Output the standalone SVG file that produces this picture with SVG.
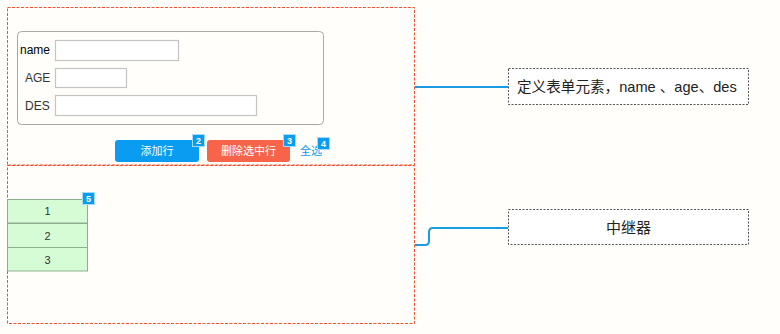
<svg xmlns="http://www.w3.org/2000/svg" width="780" height="334" viewBox="0 0 780 334">
<style>
.frame{fill:none;stroke:#f0522f;stroke-width:1;stroke-dasharray:3,1.5}
.inp{fill:#ffffff;stroke:#c4c4c4;stroke-width:1.2}
.lbl{font-family:"Liberation Sans",Arial,sans-serif;font-size:12px;fill:#333}
.btn{font-family:"Liberation Sans","Noto Sans CJK SC",sans-serif;font-size:11px;fill:#ffffff;text-anchor:middle}
.badge rect{fill:#0a9cf0;stroke:#a6dcfa;stroke-width:1}
.badge text{font-family:"Liberation Sans",Arial,sans-serif;font-size:9px;font-weight:bold;fill:#fff;text-anchor:middle}
.row rect{fill:#d5fcd5;stroke:#8fae8f;stroke-width:1}
.row text{font-family:"Liberation Sans",Arial,sans-serif;font-size:11px;fill:#333;text-anchor:middle}
.note{fill:#ffffff;stroke:#555;stroke-width:1;stroke-dasharray:2,1.5}
.notetxt{font-family:"Liberation Sans","Noto Sans CJK SC",sans-serif;font-size:14.6px;fill:#222}
.conn{fill:none;stroke:#1a9be6;stroke-width:2}
</style>
<rect width="780" height="334" fill="#fffefb"/>
<g id="form-area">
  <rect class="frame" x="7.5" y="7.5" width="407" height="157.5"/>
  <rect x="17.5" y="31.5" width="306" height="93" rx="4" fill="#fffefb" stroke="#a8a8a8" stroke-width="1"/>
  <text class="lbl" x="20" y="54" style="fill:#000">name</text>
  <rect class="inp" x="55.5" y="40.5" width="123" height="20"/>
  <text class="lbl" x="25" y="82">AGE</text>
  <rect class="inp" x="55.5" y="68.5" width="71" height="19"/>
  <text class="lbl" x="25" y="110">DES</text>
  <rect class="inp" x="55.5" y="95.5" width="201" height="20"/>
</g>
<g id="btn-add">
  <rect x="115" y="140" width="84" height="22" rx="3" fill="#0a9cf0"/>
  <text class="btn" x="157" y="155">添加行</text>
</g>
<g id="btn-del">
  <rect x="207" y="140" width="83" height="22" rx="3" fill="#f7644a"/>
  <text class="btn" x="248.5" y="155">删除选中行</text>
</g>
<g id="select-all">
  <text x="300" y="155" style="font-family:'Liberation Sans','Noto Sans CJK SC',sans-serif;font-size:11px;fill:#0a9cf0">全选</text>
</g>
<g id="badge-2" class="badge"><rect x="192.5" y="134.5" width="12" height="12"/><text x="198.5" y="144">2</text></g>
<g id="badge-3" class="badge"><rect x="283.5" y="134.5" width="12" height="12"/><text x="289.5" y="144">3</text></g>
<g id="badge-4" class="badge"><rect x="317.5" y="137.5" width="12" height="12"/><text x="323.5" y="147">4</text></g>
<g id="repeater-area">
  <rect class="frame" x="7.5" y="165.5" width="407" height="158"/>
</g>
<g id="repeater">
  <g class="row"><rect x="7.5" y="199.5" width="80" height="23.5"/><text x="47.5" y="215">1</text></g>
  <g class="row"><rect x="7.5" y="223.5" width="80" height="24"/><text x="47.5" y="239.5">2</text></g>
  <g class="row"><rect x="7.5" y="247.5" width="80" height="23.5"/><text x="47.5" y="263.5">3</text></g>
</g>
<g id="badge-5" class="badge"><rect x="82.5" y="192.5" width="12" height="12"/><text x="88.5" y="202">5</text></g>
<g id="connectors">
  <path class="conn" d="M415,87 H508"/>
  <path class="conn" d="M415,245 H425 Q429,245 429,241 V232 Q429,228 433,228 H508"/>
</g>
<g id="note-1">
  <rect class="note" x="508.5" y="68.5" width="240" height="36"/>
  <text class="notetxt" x="517" y="92">定义表单元素，name 、age、des</text>
</g>
<g id="note-2">
  <rect class="note" x="508.5" y="209.5" width="240" height="35"/>
  <text class="notetxt" x="628.5" y="233" text-anchor="middle" style="font-size:15px">中继器</text>
</g>
</svg>
